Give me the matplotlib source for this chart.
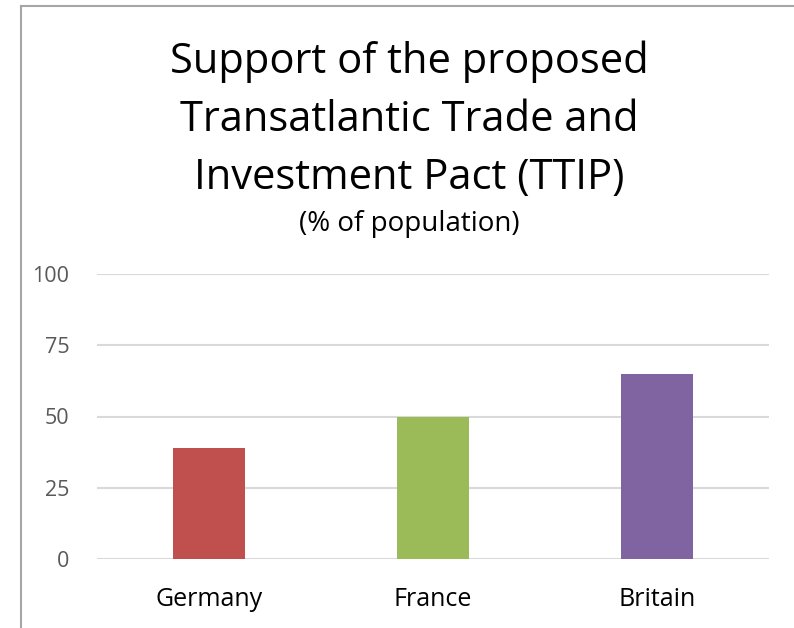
import matplotlib
matplotlib.use("Agg")
import matplotlib.pyplot as plt
from matplotlib.lines import Line2D

# TTIP support by country, % of population
countries = ["Germany", "France", "Britain"]
support = [39, 50, 65]
bar_colors = ["#C0504D", "#9BBB59", "#8064A2"]
yticks = [0, 25, 50, 75, 100]
title_lines = ["Support of the proposed", "Transatlantic Trade and",
               "Investment Pact (TTIP)"]

plt.rcParams['font.family'] = ['Open Sans', 'DejaVu Sans']

W, H = 794, 628
fig = plt.figure(figsize=(W / 100, H / 100), dpi=100)

# chart frame (left and top edges)
fig.add_artist(Line2D([21 / W, 21 / W], [0, 1 - 6 / H], transform=fig.transFigure,
                      color="#A6A6A6", lw=1.5))
fig.add_artist(Line2D([21 / W, 1], [1 - 6 / H, 1 - 6 / H], transform=fig.transFigure,
                      color="#A6A6A6", lw=1.5))

ax = fig.add_axes([97 / W, 1 - 559 / H, (769 - 97) / W, (559 - 274) / H])
x = range(len(countries))
ax.bar(x, support, width=0.32, color=bar_colors, zorder=3)
ax.set_xlim(-0.5, len(countries) - 0.5)
ax.set_ylim(0, 100)
ax.set_yticks(yticks)
ax.set_xticks(list(x))
ax.set_xticklabels(countries, fontsize=18, color="#000000")
ax.tick_params(axis="y", labelsize=15.5, colors="#595959", length=0, pad=20)
ax.tick_params(axis="x", length=0, pad=20)
ax.grid(axis="y", color="#D9D9D9", lw=1.5, zorder=0)
for s in ax.spines.values():
    s.set_visible(False)

# title, one line at a time
for i, line in enumerate(title_lines):
    fig.text(409 / W, 1 - (62 + 58 * i) / H, line, ha="center", va="center",
             fontsize=30, color="#000000")
fig.text(409 / W, 1 - 224 / H, "(% of population)", ha="center", va="center",
         fontsize=20, color="#000000")

fig.savefig("out.png", dpi=100)
